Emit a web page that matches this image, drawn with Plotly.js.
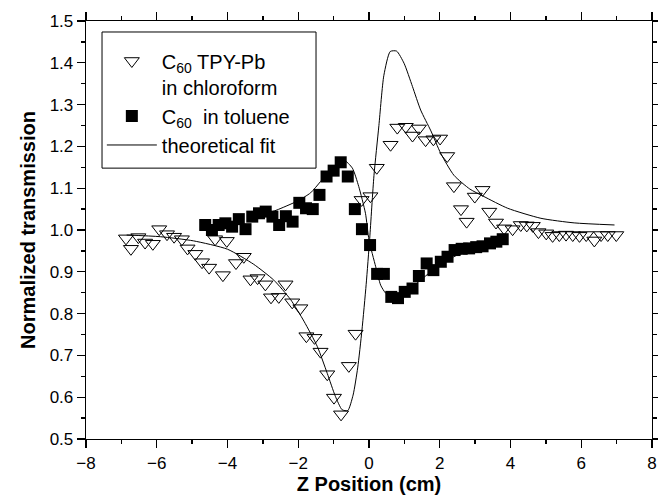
<!DOCTYPE html>
<html>
<head>
<meta charset="utf-8">
<script src="https://cdn.plot.ly/plotly-3.0.1.min.js"></script>
<style>html,body{margin:0;padding:0;background:#fff;}#chart{width:658px;height:499px;}</style>
</head>
<body>
<div id="chart"></div>
<script>
// C60 TPY-Pb in chloroform (open triangles)
const tpyX = [-6.87,-6.73,-6.52,-6.33,-6.11,-5.93,-5.71,-5.51,-5.29,-5.13,-4.91,-4.72,-4.52,-4.35,-4.13,-4.02,-3.76,-3.54,-3.35,-3.15,-2.93,-2.77,-2.55,-2.36,-2.17,-1.94,-1.77,-1.54,-1.37,-1.18,-0.99,-0.79,-0.57,-0.38,-0.21,0.04,0.22,0.61,0.80,1.04,1.23,1.41,1.60,1.82,2.01,2.21,2.40,2.60,2.76,2.99,3.21,3.40,3.59,3.82,4.06,4.29,4.46,4.63,4.79,5.01,5.19,5.38,5.57,5.76,5.95,6.14,6.37,6.56,6.75,6.99];
const tpyY = [0.980,0.955,0.983,0.970,0.967,1.002,0.990,0.984,0.978,0.956,0.943,0.923,0.910,0.978,0.892,0.974,0.921,0.936,0.882,0.885,0.870,0.839,0.840,0.870,0.827,0.813,0.746,0.742,0.709,0.655,0.599,0.559,0.675,0.752,1.072,1.081,1.149,1.204,1.245,1.247,1.226,1.243,1.215,1.217,1.219,1.177,1.105,1.050,1.020,1.080,1.096,1.044,1.018,1.004,1.002,1.012,1.011,1.010,0.995,0.992,0.986,0.988,0.989,0.988,0.986,0.988,0.975,0.988,0.988,0.988];

// C60 in toluene (filled squares)
const tolX = [-4.63,-4.44,-4.25,-4.06,-3.87,-3.68,-3.49,-3.30,-3.11,-2.92,-2.73,-2.54,-2.35,-2.16,-1.97,-1.78,-1.59,-1.40,-1.20,-1.00,-0.80,-0.60,-0.40,-0.20,0.03,0.23,0.42,0.63,0.82,1.01,1.23,1.41,1.63,1.82,2.03,2.22,2.42,2.62,2.83,3.03,3.21,3.42,3.60,3.78];
const tolY = [1.012,1.000,1.012,1.016,1.008,1.026,1.002,1.032,1.040,1.044,1.032,1.012,1.033,1.020,1.065,1.052,1.050,1.084,1.128,1.142,1.162,1.128,1.050,1.002,0.964,0.895,0.895,0.840,0.837,0.852,0.860,0.890,0.920,0.904,0.924,0.936,0.952,0.955,0.956,0.959,0.961,0.968,0.972,0.978];

// theoretical fit for C60 TPY-Pb
const fitTpyX = [-6.85,-5.9,-4.96,-4.0,-3.26,-2.69,-2.22,-1.84,-1.46,-1.18,-0.95,-0.76,-0.6,-0.45,-0.32,-0.2,-0.08,0.02,0.14,0.28,0.42,0.6,0.78,0.99,1.23,1.46,1.75,2.03,2.4,2.85,3.25,3.92,4.86,5.8,6.94];
const fitTpyY = [0.988,0.984,0.974,0.954,0.918,0.880,0.834,0.782,0.721,0.657,0.602,0.570,0.568,0.605,0.670,0.760,0.870,0.980,1.130,1.250,1.370,1.427,1.428,1.399,1.343,1.287,1.237,1.183,1.131,1.098,1.080,1.052,1.028,1.017,1.012];

// theoretical fit for C60 in toluene
const fitTolX = [-2.8,-2.6,-2.03,-1.65,-1.37,-1.09,-0.71,-0.47,-0.29,-0.10,0.00,0.19,0.33,0.47,0.66,0.9,1.2,1.6,2.0,2.5,3.0,3.5,3.8];
const fitTolY = [1.042,1.048,1.069,1.089,1.116,1.145,1.167,1.148,1.104,1.040,0.976,0.912,0.868,0.849,0.839,0.843,0.862,0.890,0.918,0.940,0.953,0.963,0.968];

const legendTpy = 'C<sub>60</sub> TPY-Pb<br>in chloroform';
const legendTol = 'C<sub>60</sub>  in toluene';
const legendFit = 'theoretical fit';

const traces = [
  {x: fitTpyX, y: fitTpyY, mode: 'lines', line: {color: '#000', width: 1, shape: 'spline', smoothing: 0.6}, name: legendFit, legendrank: 3, showlegend: true},
  {x: fitTolX, y: fitTolY, mode: 'lines', line: {color: '#000', width: 1, shape: 'spline', smoothing: 0.6}, name: legendFit, showlegend: false},
  {x: tpyX, y: tpyY, mode: 'markers', name: legendTpy, legendrank: 1,
   marker: {symbol: 'triangle-down-open', size: 13, color: '#000', line: {width: 1, color: '#000'}}},
  {x: tolX, y: tolY, mode: 'markers', name: legendTol, legendrank: 2,
   marker: {symbol: 'square', size: 12, color: '#000', line: {width: 0}}}
];

const axisFont = {family: 'Liberation Sans, Arial, sans-serif', size: 17, color: '#000'};
const layout = {
  width: 658, height: 499,
  margin: {l: 86, r: 6, t: 21, b: 60},
  paper_bgcolor: '#fff', plot_bgcolor: '#fff',
  font: {family: 'Liberation Sans, Arial, sans-serif', color: '#000'},
  showlegend: true,
  legend: {x: 0.028, y: 0.951, xanchor: 'left', yanchor: 'top', borderwidth: 0,
           bgcolor: 'rgba(0,0,0,0)', font: {size: 20, color: '#000'}, valign: 'top', itemwidth: 50, tracegroupgap: 7},
  shapes: [{type: 'rect', xref: 'paper', yref: 'paper', x0: 0.0283, x1: 0.4064, y0: 0.648, y1: 0.9737,
            line: {color: '#000', width: 1}, fillcolor: 'rgba(0,0,0,0)', layer: 'above'}],
  xaxis: {range: [-8, 8], dtick: 2, tick0: 0, ticks: 'outside', ticklen: 8, tickwidth: 1.3, tickcolor: '#000',
          minor: {dtick: 1, ticks: 'outside', ticklen: 4, tickwidth: 1.3, tickcolor: '#000'},
          showline: true, linewidth: 1.3, linecolor: '#000', mirror: 'ticks', showgrid: false, zeroline: false,
          tickfont: axisFont,
          title: {text: 'Z Position (cm)', font: {size: 20, family: 'Liberation Sans, Arial, sans-serif', weight: 'bold', color: '#000'}, standoff: 5}},
  yaxis: {range: [0.5, 1.5], dtick: 0.1, tick0: 0.5, tickformat: '.1f', ticks: 'outside', ticklen: 8, tickwidth: 1.3, tickcolor: '#000',
          minor: {dtick: 0.05, ticks: 'outside', ticklen: 4, tickwidth: 1.3, tickcolor: '#000'},
          showline: true, linewidth: 1.3, linecolor: '#000', mirror: 'ticks', showgrid: false, zeroline: false,
          tickfont: axisFont,
          title: {text: 'Normalized transmission', font: {size: 20, family: 'Liberation Sans, Arial, sans-serif', weight: 'bold', color: '#000'}, standoff: 8}}
};

Plotly.newPlot('chart', traces, layout, {displayModeBar: false, staticPlot: true});
</script>
</body>
</html>
